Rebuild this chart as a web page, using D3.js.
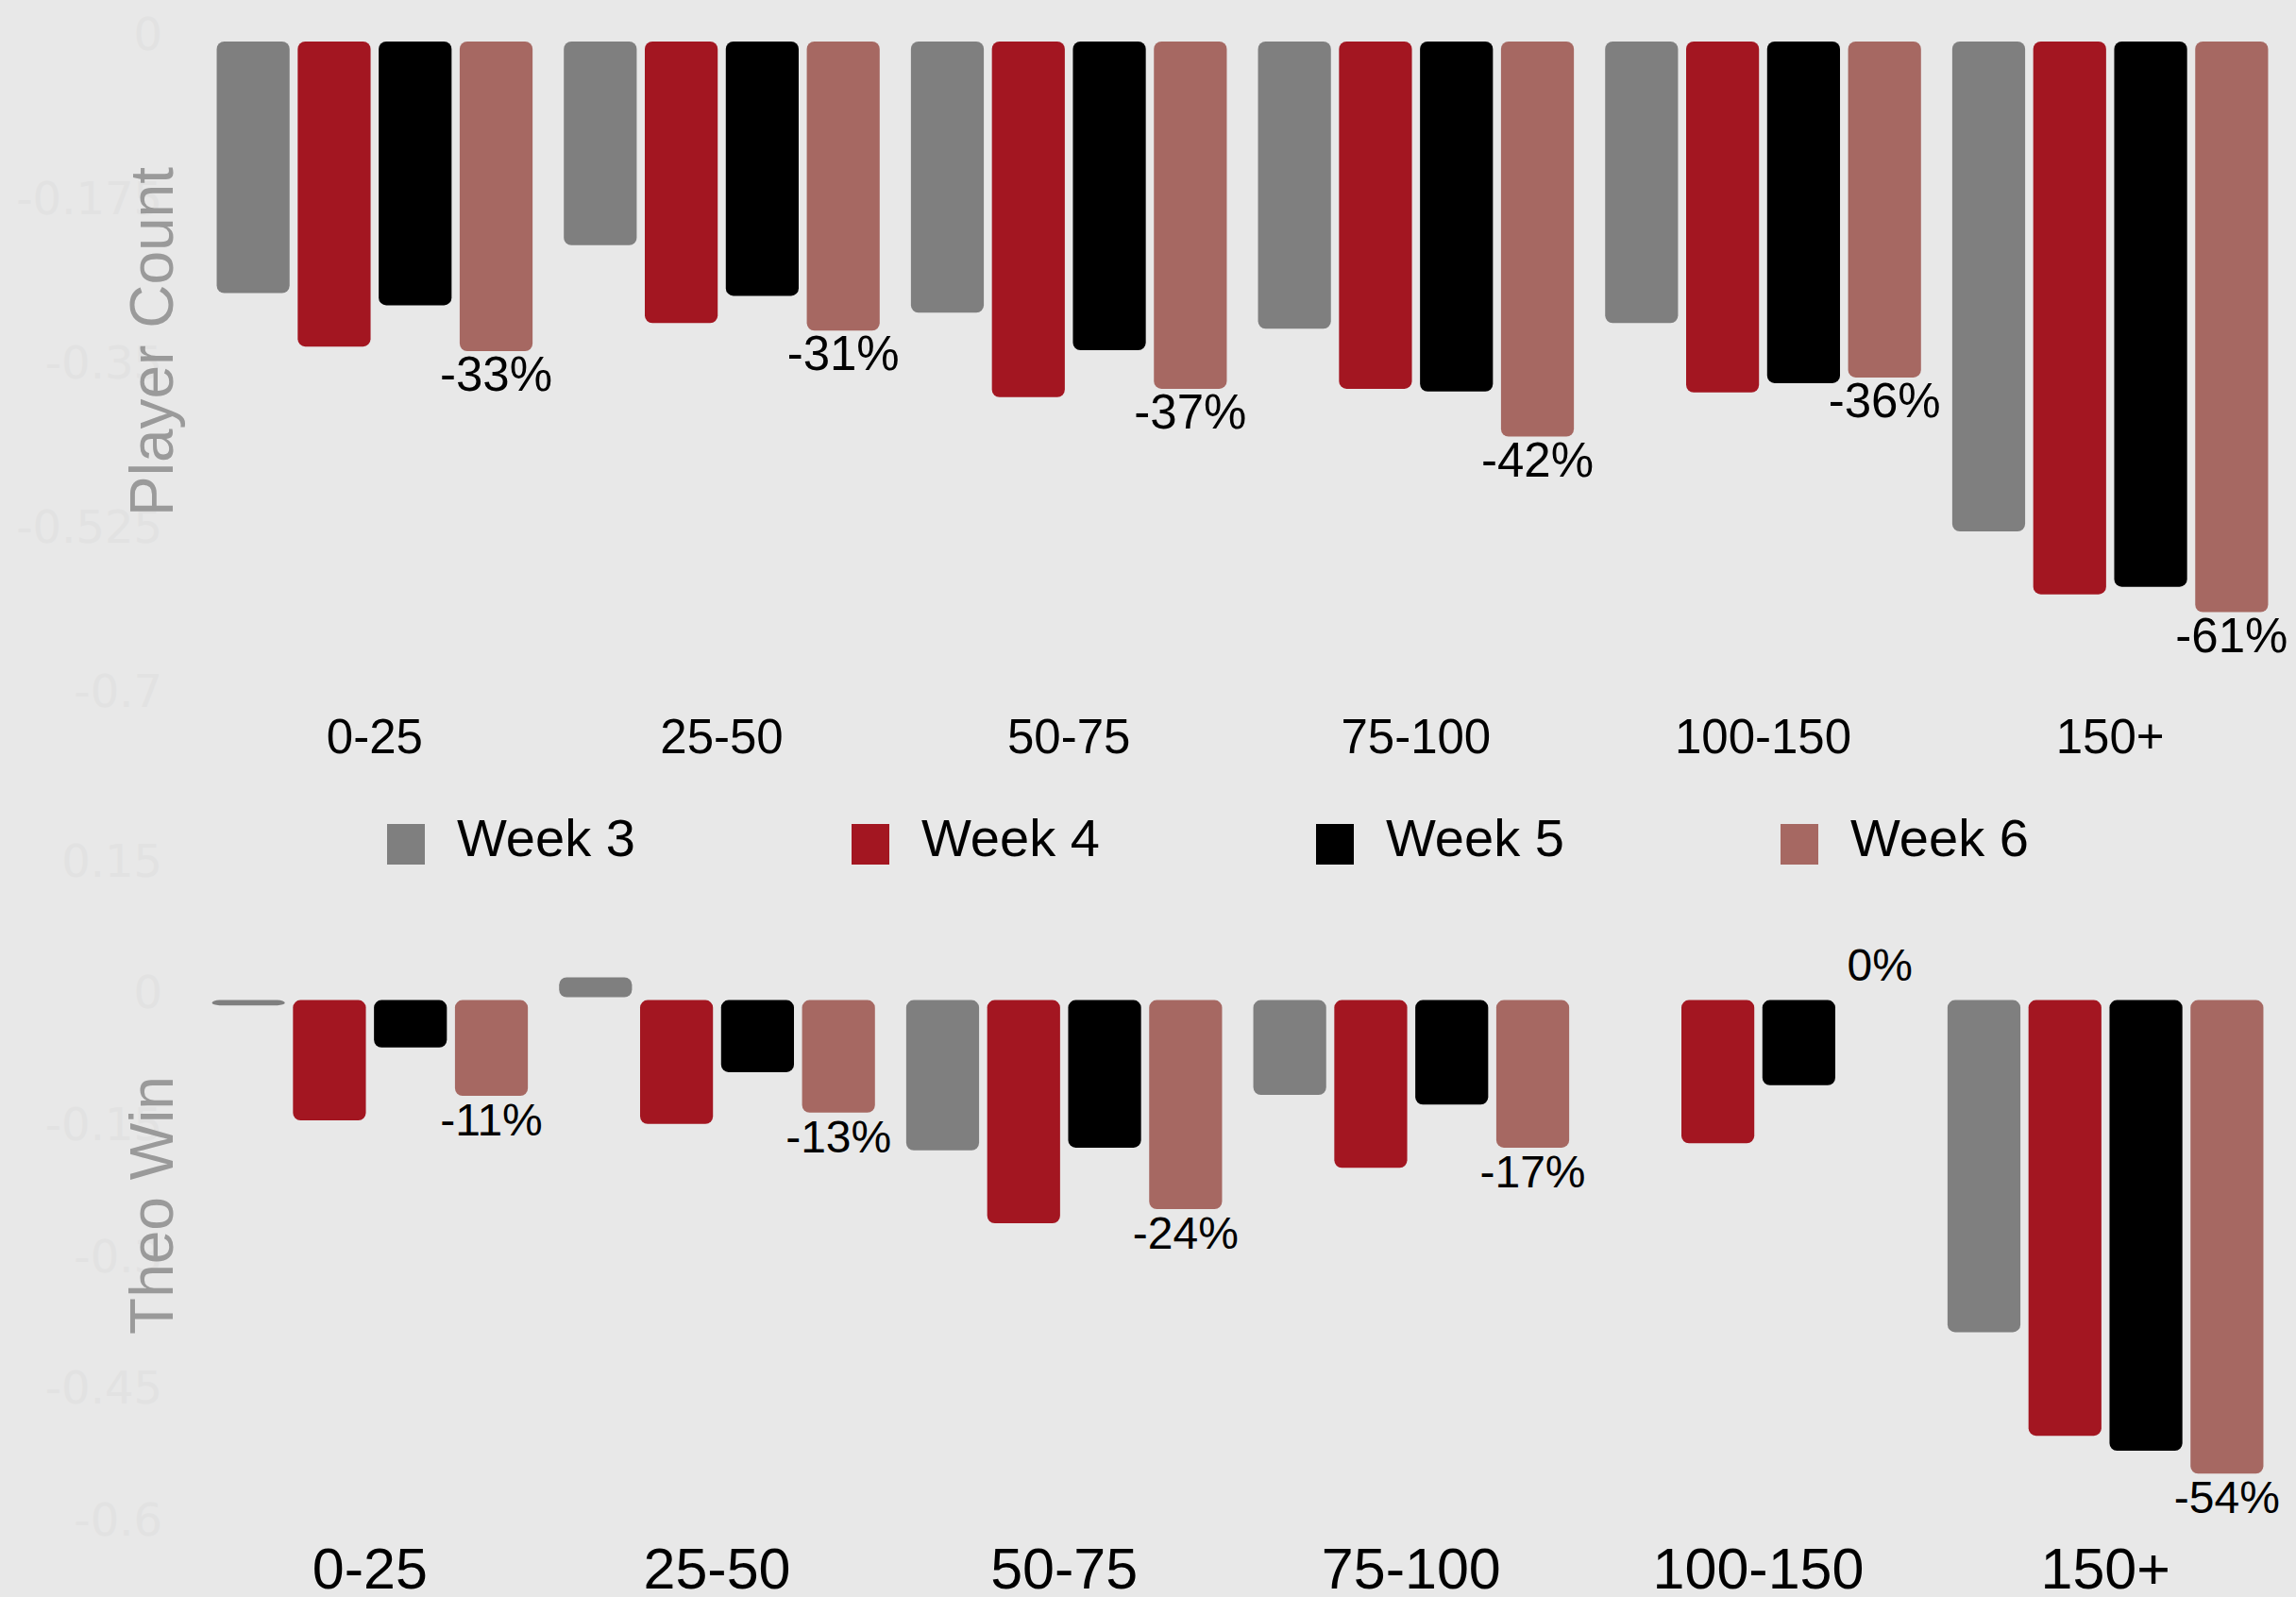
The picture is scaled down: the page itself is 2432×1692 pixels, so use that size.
<!DOCTYPE html>
<html>
<head>
<meta charset="utf-8">
<script src="https://cdn.jsdelivr.net/npm/d3@7"></script>
<style>
  body { margin: 0; background: #e8e8e8; }
  svg { display: block; }
</style>
</head>
<body>
<div id="chart"></div>
<script>
// categories and series
var groups = ["0-25", "25-50", "50-75", "75-100", "100-150", "150+"];
var weeks = ["Week 3", "Week 4", "Week 5", "Week 6"];
var colors = ["#7f7f7f", "#a31621", "#000000", "#a66862"];

// Player Count change
var playerWeek3 = [-0.268, -0.217, -0.289, -0.306, -0.300, -0.522];
var playerWeek4 = [-0.325, -0.300, -0.379, -0.370, -0.374, -0.589];
var playerWeek5 = [-0.281, -0.271, -0.329, -0.373, -0.364, -0.581];
var playerWeek6 = [-0.330, -0.308, -0.370, -0.421, -0.358, -0.608];
var playerTicks = [0, -0.175, -0.35, -0.525, -0.7];

// Theo Win change
var theoWeek3 = [-0.006, 0.026, -0.171, -0.108, 0, -0.378];
var theoWeek4 = [-0.137, -0.141, -0.254, -0.191, -0.163, -0.496];
var theoWeek5 = [-0.054, -0.082, -0.168, -0.119, -0.097, -0.513];
var theoWeek6 = [-0.109, -0.128, -0.238, -0.168, 0, -0.539];
var theoTicks = [0.15, 0, -0.15, -0.3, -0.45, -0.6];

var W = 2432, H = 1692;
var font = "'Liberation Sans', Arial, Helvetica, sans-serif";

var svg = d3.select("#chart")
    .append("svg")
    .attr("width", W)
    .attr("height", H)
    .style("background", "#e8e8e8");

drawPanel({
    title: "Player Count",
    titleShift: -30,
    series: [playerWeek3, playerWeek4, playerWeek5, playerWeek6],
    ticks: playerTicks,
    domain: [-0.7, 0],
    xRange: [213, 2419],
    yRange: [740, 44],
    labelSize: 51,
    catSize: 51,
    catY: 798
});

drawPanel({
    title: "Theo Win",
    titleShift: 8,
    series: [theoWeek3, theoWeek4, theoWeek5, theoWeek6],
    ticks: theoTicks,
    domain: [-0.6, 0.15],
    xRange: [208, 2414],
    yRange: [1618, 920],
    labelSize: 48,
    catSize: 61,
    catY: 1683
});

// Legend between the two panels
var legend = svg.append("g")
    .attr("class", "legend")
    .attr("transform", "translate(410,873)");

var legendItem = legend.selectAll(".legend-item")
    .data(weeks)
    .enter()
    .append("g")
    .attr("class", "legend-item")
    .attr("transform", function(d, i) { return "translate(" + (i * 492) + ",0)"; });

legendItem.append("rect")
    .attr("width", 40)
    .attr("height", 43)
    .style("fill", function(d, i) { return colors[i]; });

legendItem.append("text")
    .attr("x", 74)
    .attr("y", 34)
    .style("font-family", font)
    .style("font-size", "56px")
    .style("fill", "#000")
    .text(function(d) { return d; });

function drawPanel(opt) {
    var g = svg.append("g");

    // scales: outer band for the groups, inner band for the weeks
    var x0 = d3.scaleBand()
        .domain(groups)
        .range(opt.xRange)
        .paddingInner(0.09)
        .paddingOuter(0.045);

    var x1 = d3.scaleBand()
        .domain(weeks)
        .range([0, x0.bandwidth()])
        .paddingInner(0.1);

    var y = d3.scaleLinear()
        .domain(opt.domain)
        .range(opt.yRange);

    // very faint tick labels
    g.selectAll(".tick-label")
        .data(opt.ticks)
        .enter()
        .append("text")
        .attr("class", "tick-label")
        .attr("x", 172)
        .attr("y", function(d) { return y(d) - 8; })
        .attr("dy", "0.35em")
        .attr("text-anchor", "end")
        .style("font-family", "'DejaVu Sans', Verdana, sans-serif")
        .style("font-size", "48px")
        .style("fill", "#e2e2e2")
        .text(function(d) { return String(d); });

    // axis title
    var mid = (opt.yRange[0] + opt.yRange[1]) / 2;
    g.append("text")
        .attr("transform", "translate(183," + (mid + opt.titleShift) + ") rotate(-90)")
        .attr("text-anchor", "middle")
        .style("font-family", font)
        .style("font-size", "64px")
        .style("font-weight", "300")
        .style("fill", "#9a9a9a")
        .text(opt.title);

    var rows = groups.map(function(grp, gi) {
        return opt.series.map(function(s, si) {
            return { group: grp, week: weeks[si], color: colors[si], value: s[gi], last: si === weeks.length - 1 };
        });
    });

    var grp = g.selectAll(".group")
        .data(rows)
        .enter()
        .append("g")
        .attr("class", "group")
        .attr("transform", function(d, i) { return "translate(" + x0(groups[i]) + ",0)"; });

    // bars, rounded at both ends
    grp.selectAll("rect")
        .data(function(d) { return d.filter(function(b) { return b.value !== 0; }); })
        .enter()
        .append("rect")
        .attr("x", function(d) { return x1(d.week); })
        .attr("width", x1.bandwidth())
        .attr("y", function(d) { return d.value < 0 ? y(0) : y(d.value); })
        .attr("height", function(d) {
            return d.value < 0 ? y(d.value) - y(0) : Math.max(0, y(0) - y(d.value) - 3);
        })
        .attr("rx", 8)
        .style("fill", function(d) { return d.color; });

    // percent label under the Week 6 bar
    grp.selectAll(".bar-label")
        .data(function(d) { return d.filter(function(b) { return b.last; }); })
        .enter()
        .append("text")
        .attr("class", "bar-label")
        .attr("x", function(d) { return x1(d.week) + x1.bandwidth() / 2; })
        .attr("y", function(d) { return d.value < 0 ? y(d.value) + 42 : y(d.value) - 21; })
        .attr("text-anchor", "middle")
        .style("font-family", font)
        .style("font-size", opt.labelSize + "px")
        .style("fill", "#000")
        .text(function(d) { return Math.round(d.value * 100) + "%"; });

    // category labels
    g.selectAll(".cat")
        .data(groups)
        .enter()
        .append("text")
        .attr("class", "cat")
        .attr("x", function(d) { return x0(d) + x0.bandwidth() / 2; })
        .attr("y", opt.catY)
        .attr("text-anchor", "middle")
        .style("font-family", font)
        .style("font-size", opt.catSize + "px")
        .style("fill", "#000")
        .text(function(d) { return d; });
}
</script>
</body>
</html>
